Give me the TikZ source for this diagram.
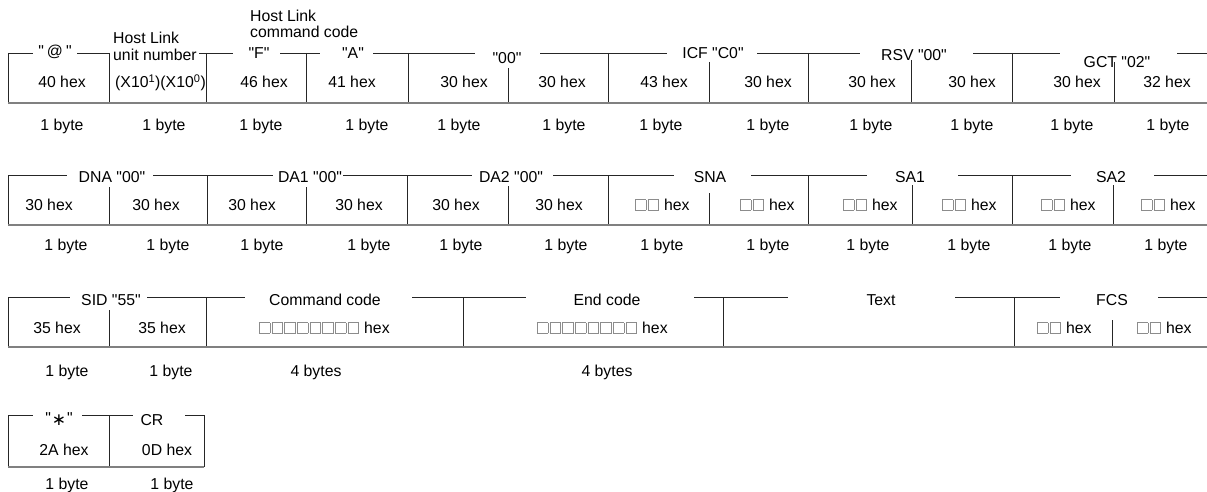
\documentclass[tikz,border=0pt]{standalone}
\usepackage{fontspec}
\setmainfont{Liberation Sans}[Ligatures=TeXOff]
\newfontfamily\symfam{DejaVu Sans}
\newcommand\fsz{\fontsize{15.8}{19}\selectfont}
\newcommand\dq{"}
\newcommand\sqg{\kern0.65pt{\color{black!45}\fboxsep=0pt\fboxrule=0.7pt\fbox{\rule{0pt}{10pt}\rule{10pt}{0pt}}}\kern0.65pt}
\newcommand\sqtwo{\sqg\sqg}
\newcommand\sqeight{\sqg\sqg\sqg\sqg\sqg\sqg\sqg\sqg}
\tikzset{
  txt/.style={font=\fsz, inner sep=0pt, anchor=base},
  rulel/.style={line width=0.9pt, draw=black!85},
  baseline/.style={line width=1.4pt, draw=black!50},
}
\begin{document}
\begin{tikzpicture}[x=1pt,y=-1pt]
\useasboundingbox (0,0) rectangle (1207,492);
% ---------------- Row 1 ----------------
\draw[rulel] (8,53)--(33,53) (77,53)--(109,53) (199,53)--(233,53) (280,53)--(320,53)
  (373,53)--(475,53) (540,53)--(667,53) (757,53)--(860,53) (973,53)--(1060,53) (1177,53)--(1207,53);
\foreach \x in {8,109,206,306,408,608,808,1012} \draw[rulel] (\x,53)--(\x,103);
\foreach \x/\t in {508/68,709/62,911/60,1114/62} \draw[rulel] (\x,\t)--(\x,103);
\draw[baseline] (8,103)--(1207,103);
\node[txt] (a1) at (55,57) {\dq\kern3pt@\kern3pt\dq};
\node[txt,anchor=base west] (a2a) at (113,44) {Host Link};
\node[txt,anchor=base west] (a2b) at (113,61) {unit number};
\node[txt,anchor=base west] (a3a) at (250,22) {Host Link};
\node[txt,anchor=base west] (a3b) at (250,38) {command code};
\node[txt] (a3) at (259,59) {\dq F\dq};
\node[txt] (a4) at (353,59) {\dq A\dq};
\node[txt] (a5) at (507,64) {\dq 00\dq};
\node[txt] (a6) at (713,59) {ICF \dq C0\dq};
\node[txt] (a7) at (914,61) {RSV \dq 00\dq};
\node[txt] (a8) at (1117,67.5) {GCT \dq 02\dq};
\foreach \x/\t [count=\i] in {62/40 hex,264/46 hex,352/41 hex,464/30 hex,562/30 hex,664/43 hex,768/30 hex,872/30 hex,972/30 hex,1077/30 hex,1167/32 hex}
  \node[txt] (ah\i) at (\x,88) {\t};
\node[txt,anchor=base west] (ahx) at (115,88) {(X10\textsuperscript{1})(X10\textsuperscript{0})};
\foreach \x [count=\i] in {62,164,261,367,459,564,661,768,871,972,1072,1168}
  \node[txt] (ab\i) at (\x,131) {1 byte};
% ---------------- Row 2 ----------------
\draw[rulel] (8,175)--(67,175) (153,175)--(273,175) (343,175)--(472,175) (553,175)--(674,175)
  (751,175)--(867,175) (958,175)--(1071,175) (1154,175)--(1207,175);
\foreach \x in {8,207,407,608,808,1012} \draw[rulel] (\x,175)--(\x,225);
\foreach \x/\t in {109/187,306/187,508/186,709/193,912/185,1113/185} \draw[rulel] (\x,\t)--(\x,225);
\draw[baseline] (8,225)--(1207,225);
\node[txt] (b1) at (112,182) {DNA \dq 00\dq};
\node[txt] (b2) at (310,182) {DA1 \dq 00\dq};
\node[txt] (b3) at (511,182) {DA2 \dq 00\dq};
\node[txt] (b4) at (710,182) {SNA};
\node[txt] (b5) at (910,182) {SA1};
\node[txt] (b6) at (1111,182) {SA2};
\foreach \x [count=\i] in {49,156,252,359,456,559}
  \node[txt] (bh\i) at (\x,210) {30 hex};
\foreach \x [count=\i] in {662,767,870,969,1068,1168}
  \node[txt] (bq\i) at (\x,210) {\sqtwo\ hex};
\foreach \x [count=\i] in {66,168,262,369,461,566,662,768,868,969,1070,1166}
  \node[txt] (bb\i) at (\x,250) {1 byte};
% ---------------- Row 3 ----------------
\draw[rulel] (8,297)--(70,297) (147,297)--(245,297) (412,297)--(526,297) (694,297)--(788,297)
  (955,297)--(1060,297) (1158,297)--(1207,297);
\foreach \x in {8,206,463,723,1014} \draw[rulel] (\x,297)--(\x,347);
\foreach \x/\t in {109/310,1112/320} \draw[rulel] (\x,\t)--(\x,347);
\draw[baseline] (8,347)--(1207,347);
\node[txt] (c1) at (111,305) {SID \dq 55\dq};
\node[txt] (c2) at (325,305) {Command code};
\node[txt] (c3) at (607,305) {End code};
\node[txt] (c4) at (881,305) {Text};
\node[txt] (c5) at (1112,305) {FCS};
\node[txt] (ch1) at (57,333) {35 hex};
\node[txt] (ch2) at (162,333) {35 hex};
\node[txt,anchor=base west] (ch3) at (258,333) {\sqeight\ hex};
\node[txt,anchor=base west] (ch4) at (536,333) {\sqeight\ hex};
\node[txt] (ch5) at (1064,333) {\sqtwo\ hex};
\node[txt] (ch6) at (1164,333) {\sqtwo\ hex};
\node[txt] (cb1) at (67,376) {1 byte};
\node[txt] (cb2) at (171,376) {1 byte};
\node[txt] (cb3) at (316,376) {4 bytes};
\node[txt] (cb4) at (607,376) {4 bytes};
% ---------------- Row 4 ----------------
\draw[rulel] (8,415)--(33,415) (82,415)--(133,415) (185,415)--(204,415);
\foreach \x in {8,109,204} \draw[rulel] (\x,415)--(\x,467);
\draw[baseline] (8,467)--(204,467);
\node[txt] (d1) at (59,423) {\dq\kern1pt{\symfam\fontsize{17}{19}\selectfont\raisebox{-2pt}{∗}}\kern1pt\dq};
\node[txt] (d2) at (152,425) {CR};
\node[txt] (dh1) at (64,455) {2A hex};
\node[txt] (dh2) at (167,455) {0D hex};
\node[txt] (db1) at (67,489) {1 byte};
\node[txt] (db2) at (172,489) {1 byte};
\end{tikzpicture}
\end{document}
